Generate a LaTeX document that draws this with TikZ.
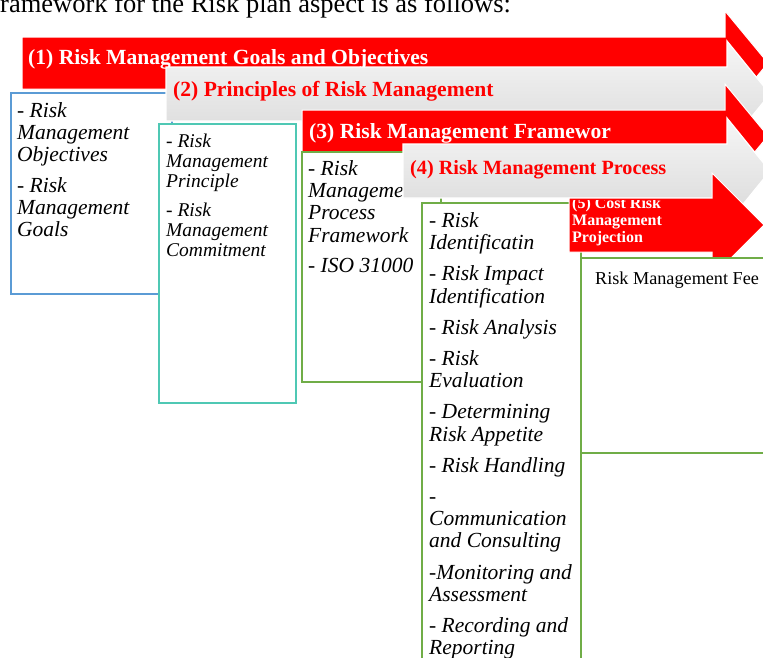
\documentclass[tikz,border=0pt]{standalone}
\usepackage{fontspec}
\setmainfont{Liberation Serif}
\usepackage{tikz}
\definecolor{boxblue}{HTML}{5B9BD5}
\definecolor{boxteal}{HTML}{4FC8B4}
\definecolor{boxgreen}{HTML}{70AD47}
\definecolor{headred}{HTML}{FF0000}
\tikzset{every node/.style={align=left, inner sep=0pt}, >= latex}
\tikzset{
  redarrow/.style={fill=headred, draw=white, line width=1pt},
  grayarrow/.style={top color=gray!7, bottom color=gray!30, draw=white, line width=1.2pt},
  headtext/.style={anchor=base west, font=\bfseries\fontsize{21.6}{25}\selectfont},
  listbox/.style={draw=#1, fill=white, line width=1.4pt},
  listtext/.style={anchor=north west, font=\itshape\fontsize{21.5}{22.2}\selectfont}
}

\begin{document}
\begin{tikzpicture}[x=1pt, y=-1pt]
            \useasboundingbox (0,0) rectangle (763,657);
            \node [anchor=base west, font=\fontsize{26.5}{30}\selectfont] (intro) at (0,12.5) {ramework for the Risk plan aspect is as follows:};

            \filldraw [redarrow] (22,37) -- (725,37) -- (725,11) -- (768,63) -- (725,115) -- (725,89) -- (22,89) -- cycle;
            \node [headtext, white] (goals) at (28,64) {(1) Risk Management Goals and Objectives};
            \draw [listbox=boxblue] (11,93) rectangle (172,294);
            \node [listtext] (goalslist) at (17,102.3) {- Risk\\Management\\Objectives\\[8.5pt]- Risk\\Management\\Goals};

            \draw [grayarrow] (166,67) -- (727,67) -- (727,41) -- (770,94) -- (727,147) -- (727,121) -- (166,121) -- cycle;
            \node [headtext, headred] (principles) at (173,96) {(2) Principles of Risk Management};
            \draw [listbox=boxteal] (159,124) rectangle (296,403);
            \node [listtext, font=\itshape\fontsize{19.5}{20}\selectfont] (principleslist) at (166,133.7) {- Risk\\Management\\Principle\\[9pt]- Risk\\Management\\Commitment};

            \filldraw [redarrow] (302,110) -- (725,110) -- (725,84) -- (768,136) -- (725,188) -- (725,162) -- (302,162) -- cycle;
            \node [headtext, white] (framework) at (309,138) {(3) Risk Management Framewor};
            \draw [listbox=boxgreen] (302,152) rectangle (441,382);
            \node [listtext] (frameworklist) at (308,160.3) {- Risk\\Management\\Process\\Framework\\[8.5pt]- ISO 31000};

            \draw [grayarrow] (403,144) -- (727,144) -- (727,118) -- (770,171) -- (727,224) -- (727,198) -- (403,198) -- cycle;
            \node [headtext, headred, font=\bfseries\fontsize{20.2}{24}\selectfont] (process) at (410,174) {(4) Risk Management Process};
            \draw [listbox=boxgreen] (422,203) rectangle (581,670);
            \node [listtext] (processlist) at (429,212.3) {- Risk\\Identificatin\\[9pt]- Risk Impact\\Identification\\[9pt]- Risk Analysis\\[9pt]- Risk\\Evaluation\\[9pt]- Determining\\Risk Appetite\\[9pt]- Risk Handling\\[9pt]-\\Communication\\and Consulting\\[9pt]-Monitoring and\\Assessment\\[9pt]- Recording and\\Reporting};

            \filldraw [redarrow] (569,198) -- (712,198) -- (712,173) -- (764,225) -- (712,277) -- (712,252) -- (569,252) -- cycle;
            \begin{scope}
                \clip (569,200) rectangle (712,253);
                \node [anchor=north west, white, font=\bfseries\fontsize{16}{17}\selectfont] (cost) at (572,197) {(5) Cost Risk\\Management\\Projection};
            \end{scope}
            \draw [listbox=boxgreen] (581,258) rectangle (775,453);
            \node [anchor=base west, font=\fontsize{18.2}{20}\selectfont] (fee) at (595,284) {Risk Management Fee};
        \end{tikzpicture}
\end{document}
